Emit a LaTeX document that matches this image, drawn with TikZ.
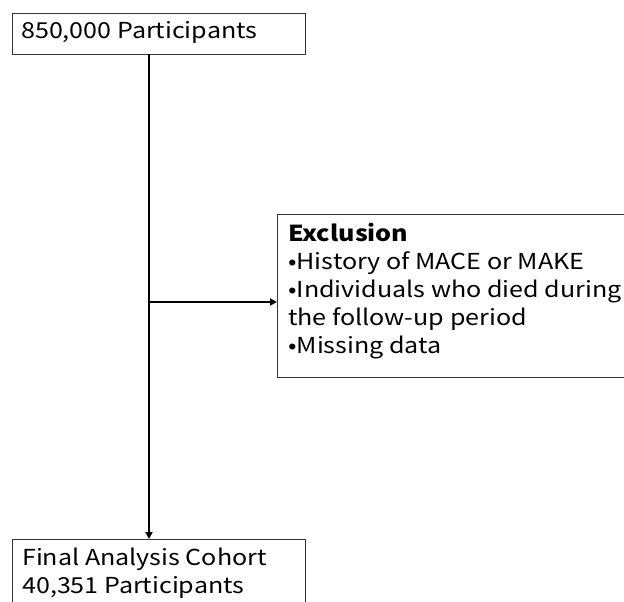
\documentclass[tikz,border=0pt]{standalone}
\usepackage{fontspec}
\newfontfamily\jpfont[FakeStretch=1.14]{Noto Sans CJK JP}
\usetikzlibrary{arrows.meta}
\begin{document}
\begin{tikzpicture}[x=1pt,y=-1pt,
  font=\jpfont\fontsize{22}{27.8}\selectfont,
  box/.style={draw=black!80, line width=1.3pt, anchor=north west, inner sep=0pt},
  txt/.style={anchor=base west, inner sep=0pt, align=left},
  conn/.style={line width=2pt, -{Triangle[length=7pt,width=7pt]}}]
\useasboundingbox (0,0) rectangle (624,602);
\clip (0,0) rectangle (624,602);
\node[box, minimum width=293pt, minimum height=41pt] (top) at (12,13) {};
\node[txt] (ttop) at (21,39) {850,000 Participants};
\node[box, minimum width=370pt, minimum height=163pt] (excl) at (277,214) {};
\node[txt] (texcl) at (288,353) {{\bfseries Exclusion}\\
•History of MACE or MAKE\\
•Individuals who died during\\
the follow-up period\\
•Missing data};
\node[box, minimum width=293pt, minimum height=90pt] (bot) at (12,539) {};
\node[txt] (tbot) at (22,593) {Final Analysis Cohort\\40,351 Participants};
\coordinate (a) at (149,54);
\coordinate (j) at (149,302);
\draw[conn] (a) -- (a |- bot.north);
\draw[conn] (j) -- (j -| excl.west);
\end{tikzpicture}
\end{document}
